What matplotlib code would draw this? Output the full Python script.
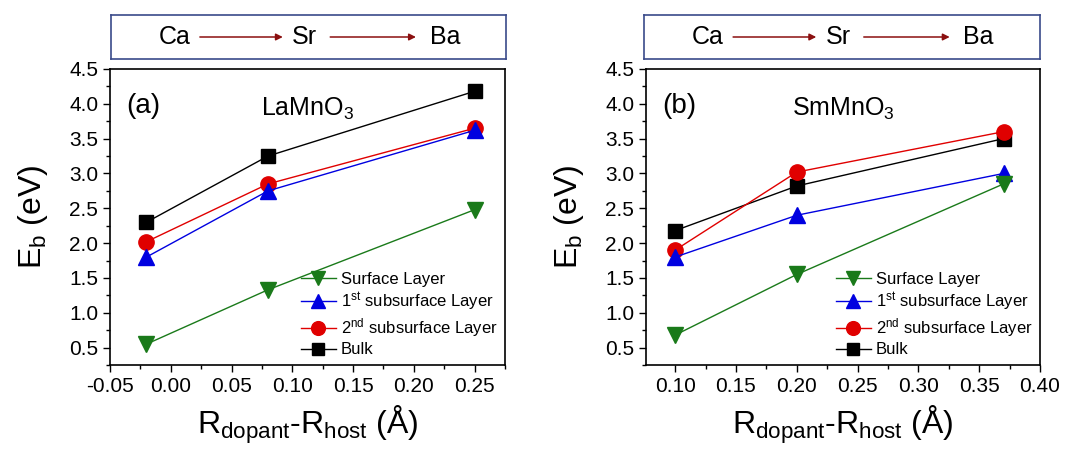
import numpy as np
import matplotlib
matplotlib.use('Agg')
import matplotlib.pyplot as plt
from matplotlib.ticker import MultipleLocator, FormatStrFormatter

plt.rcParams['font.family'] = ['Liberation Sans', 'DejaVu Sans']
plt.rcParams['mathtext.fontset'] = 'custom'
plt.rcParams['mathtext.rm'] = 'Liberation Sans'
plt.rcParams['mathtext.it'] = 'Liberation Sans'

# data
x_la = [-0.02, 0.08, 0.25]
surf_la = [0.55, 1.33, 2.48]
sub1_la = [1.80, 2.75, 3.62]
sub2_la = [2.02, 2.85, 3.65]
bulk_la = [2.30, 3.25, 4.18]

x_sm = [0.10, 0.20, 0.37]
surf_sm = [0.68, 1.55, 2.85]
sub1_sm = [1.80, 2.40, 3.00]
sub2_sm = [1.90, 3.02, 3.60]
bulk_sm = [2.18, 2.82, 3.50]

dopants = ['Ca', 'Sr', 'Ba']
labels = ['Surface Layer', '1$^{st}$ subsurface Layer',
          '2$^{nd}$ subsurface Layer', 'Bulk']

W, H = 1081, 451
fig = plt.figure(figsize=(W/100, H/100), dpi=100)

def panel(rect, box_rect, x, surf, sub1, sub2, bulk, tag, host, xlim, xmajor, xfmt):
    ax = fig.add_axes(rect)
    # draw bulk first so the surface marks sit on top
    hb, = ax.plot(x, bulk, '-s', color='black', ms=10, lw=1, zorder=2)
    h2, = ax.plot(x, sub2, '-o', color='#e00000', mec='#e00000', ms=11, lw=1, zorder=3)
    h1, = ax.plot(x, sub1, '-^', color='#0000e0', mec='#0000e0', ms=11, lw=1, zorder=4)
    hs, = ax.plot(x, surf, '-v', color='#1a7a1a', mec='#1a7a1a', ms=11, lw=1, zorder=5)
    ax.set_xlim(*xlim)
    ax.set_ylim(0.25, 4.5)
    ax.xaxis.set_major_locator(MultipleLocator(xmajor))
    ax.xaxis.set_minor_locator(MultipleLocator(xmajor/2))
    ax.yaxis.set_major_locator(MultipleLocator(0.5))
    ax.yaxis.set_minor_locator(MultipleLocator(0.25))
    ax.xaxis.set_major_formatter(FormatStrFormatter(xfmt))
    ax.yaxis.set_major_formatter(FormatStrFormatter('%.1f'))
    ax.tick_params(which='both', direction='out', labelsize=15, width=1)
    ax.tick_params(which='major', length=5)
    ax.tick_params(which='minor', length=3)
    for s in ax.spines.values():
        s.set_linewidth(1.2)
    ax.set_ylabel('E$_\\mathrm{b}$ (eV)', fontsize=23, labelpad=14)
    ax.set_xlabel('R$_\\mathrm{dopant}$-R$_\\mathrm{host}$ (Å)', fontsize=23, labelpad=6)
    ax.text(0.04, 0.92, tag, transform=ax.transAxes, fontsize=20, va='top')
    ax.text(0.5, 0.91, host, transform=ax.transAxes, fontsize=18, va='top', ha='center')
    ax.legend([hs, h1, h2, hb], labels, loc='lower right', frameon=False,
              fontsize=12, handlelength=2.1, handletextpad=0.3,
              labelspacing=0.2, borderaxespad=0.05, markerscale=0.9,
              bbox_to_anchor=(1.0, 0.0))

    bx = fig.add_axes(box_rect)
    bx.set_xticks([])
    bx.set_yticks([])
    for s in bx.spines.values():
        s.set_color('#3a4a8a')
        s.set_linewidth(1.2)
    xs = [0.162, 0.49, 0.845]
    for xx, d in zip(xs, dopants):
        bx.text(xx, 0.5, d, fontsize=18, ha='center', va='center', transform=bx.transAxes)
    for a, b in [(0.225, 0.435), (0.555, 0.772)]:
        bx.annotate('', xy=(b, 0.5), xytext=(a, 0.5), xycoords='axes fraction',
                    arrowprops=dict(arrowstyle='-|>', color='#8b1010', lw=1.1,
                                    mutation_scale=10, shrinkA=0, shrinkB=0))
    return ax

panel([110/W, 86/H, 395/W, 296/H], [111/W, 392/H, 395/W, 44/H],
      x_la, surf_la, sub1_la, sub2_la, bulk_la, '(a)', 'LaMnO$_3$',
      (-0.05, 0.275), 0.05, '%.2f')
panel([646/W, 86/H, 394/W, 296/H], [644/W, 392/H, 396/W, 44/H],
      x_sm, surf_sm, sub1_sm, sub2_sm, bulk_sm, '(b)', 'SmMnO$_3$',
      (0.076, 0.40), 0.05, '%.2f')

fig.savefig('out.png', dpi=100)
